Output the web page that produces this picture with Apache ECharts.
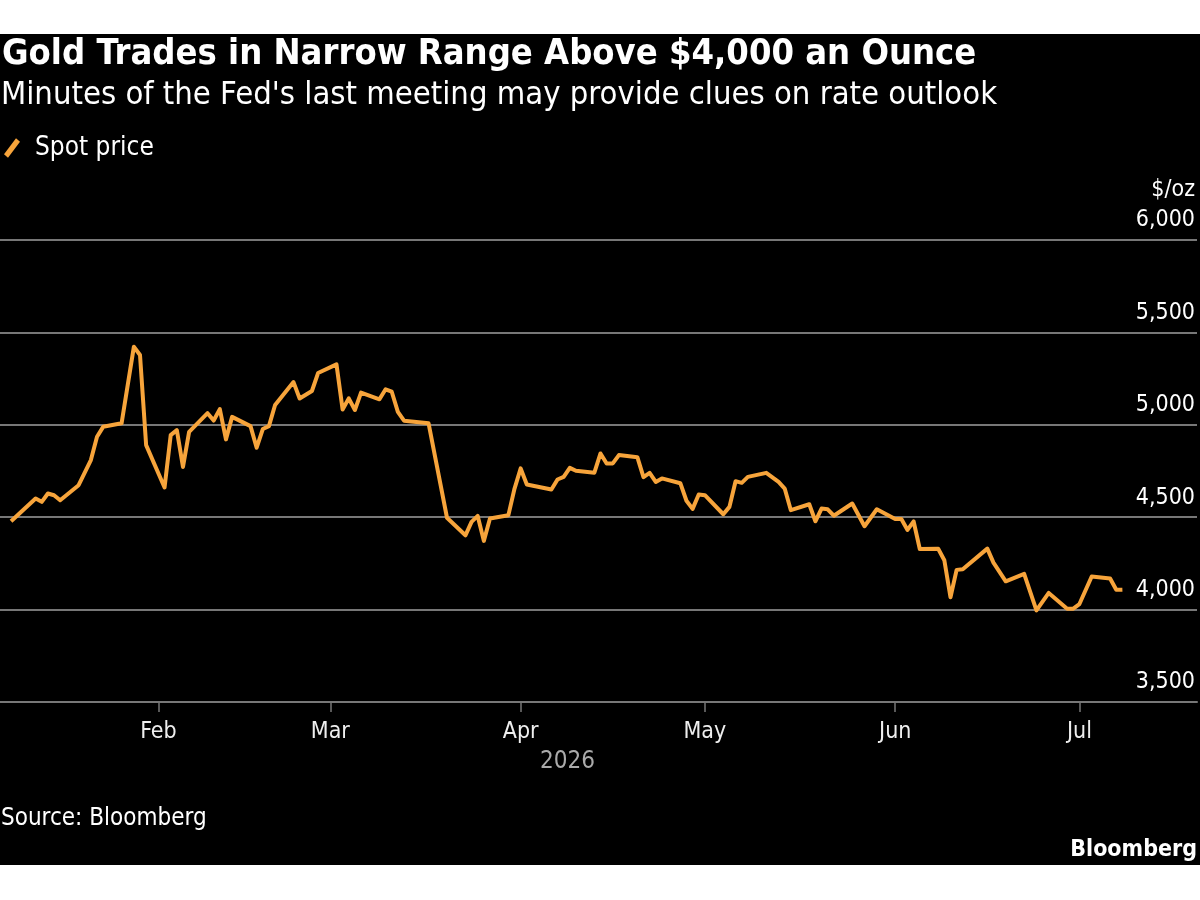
<!DOCTYPE html>
<html>
<head>
<meta charset="utf-8">
<script src="https://cdn.jsdelivr.net/npm/echarts@6/dist/echarts.min.js"></script>
<style>
  html, body { margin: 0; padding: 0; background: #fff; }
  #chart { position: absolute; left: 0; top: 34px; width: 1200px; height: 831px; background: #000; }
</style>
</head>
<body>
<div id="chart"></div>
<script>
// spot gold (trading days)
var dates = [
	'2026-01-08', '2026-01-12', '2026-01-13', '2026-01-14', '2026-01-15', '2026-01-16',
	'2026-01-19', '2026-01-21', '2026-01-22', '2026-01-23',
	'2026-01-26', '2026-01-28', '2026-01-29', '2026-01-30',
	'2026-02-02', '2026-02-03', '2026-02-04', '2026-02-05', '2026-02-06',
	'2026-02-09', '2026-02-10', '2026-02-11', '2026-02-12', '2026-02-13',
	'2026-02-16', '2026-02-17', '2026-02-18', '2026-02-19', '2026-02-20',
	'2026-02-23', '2026-02-24', '2026-02-26', '2026-02-27',
	'2026-03-02', '2026-03-03', '2026-03-04', '2026-03-05', '2026-03-06',
	'2026-03-09', '2026-03-10', '2026-03-11', '2026-03-12', '2026-03-13',
	'2026-03-17', '2026-03-20',
	'2026-03-23', '2026-03-24', '2026-03-25', '2026-03-26', '2026-03-27',
	'2026-03-30', '2026-03-31', '2026-04-01', '2026-04-02',
	'2026-04-06', '2026-04-07', '2026-04-08', '2026-04-09', '2026-04-10',
	'2026-04-13', '2026-04-14', '2026-04-15', '2026-04-16', '2026-04-17',
	'2026-04-20', '2026-04-21', '2026-04-22', '2026-04-23', '2026-04-24',
	'2026-04-27', '2026-04-28', '2026-04-29', '2026-04-30', '2026-05-01',
	'2026-05-04', '2026-05-05', '2026-05-06', '2026-05-07', '2026-05-08',
	'2026-05-11', '2026-05-13', '2026-05-14', '2026-05-15',
	'2026-05-18', '2026-05-19', '2026-05-20', '2026-05-21', '2026-05-22',
	'2026-05-25', '2026-05-27', '2026-05-29',
	'2026-06-01', '2026-06-02', '2026-06-03', '2026-06-04', '2026-06-05',
	'2026-06-08', '2026-06-09', '2026-06-10', '2026-06-11', '2026-06-12',
	'2026-06-16', '2026-06-17', '2026-06-19',
	'2026-06-22', '2026-06-24', '2026-06-26',
	'2026-06-29', '2026-06-30', '2026-07-01', '2026-07-03',
	'2026-07-06', '2026-07-07', '2026-07-08'
];
var prices = [
	4478, 4601, 4583, 4628, 4619, 4592,
	4673, 4809, 4935, 4989,
	5008, 5422, 5378, 4890,
	4661, 4944, 4971, 4772, 4962,
	5063, 5023, 5085, 4921, 5043,
	4993, 4876, 4977, 4993, 5107,
	5231, 5142, 5183, 5280,
	5327, 5083, 5143, 5080, 5174,
	5138, 5192, 5179, 5070, 5022,
	5008, 4497,
	4402, 4475, 4507, 4372, 4493,
	4511, 4655, 4764, 4677,
	4650, 4704, 4718, 4767, 4751,
	4741, 4845, 4791, 4791, 4836,
	4825, 4717, 4740, 4691, 4710,
	4684, 4589, 4545, 4623, 4619,
	4516, 4556, 4695, 4686, 4718,
	4740, 4691, 4655, 4538,
	4570, 4478, 4547, 4543, 4508,
	4574, 4451, 4543,
	4490, 4490, 4431, 4477, 4328,
	4329, 4267, 4067, 4215, 4218,
	4330, 4254, 4153,
	4193, 3996, 4090,
	4005, 4005, 4030, 4179,
	4168, 4107, 4108
];
var monthTicks = ['2026-02-01', '2026-03-01', '2026-04-01', '2026-05-01', '2026-06-01', '2026-07-01'];
var monthLabels = ['Feb', 'Mar', 'Apr', 'May', 'Jun', 'Jul'];

var font = 'DejaVu Sans Condensed';
var DAY = 86400000;

function toTime(s) {
	var p = s.split('-');
	return Date.UTC(+p[0], +p[1] - 1, +p[2]);
}

var tickTimes = monthTicks.map(toTime);
var seriesData = dates.map(function (d, i) { return [toTime(d), prices[i]]; });

var chartObj = echarts.init(document.getElementById('chart'));
var option = {
	backgroundColor: '#000',
	animation: false,
	title: [
		{
			text: 'Gold Trades in Narrow Range Above $4,000 an Ounce',
			left: 2, top: 3, padding: 0,
			textStyle: { color: '#fff', fontFamily: font, fontWeight: 'bold', fontSize: 36 }
		},
		{
			text: "Minutes of the Fed's last meeting may provide clues on rate outlook",
			left: 1, top: 45, padding: 0,
			textStyle: { color: '#fff', fontFamily: font, fontWeight: 'normal', fontSize: 32.5 }
		},
		{
			text: 'Source: Bloomberg',
			left: 1, top: 773, padding: 0,
			textStyle: { color: '#fff', fontFamily: font, fontWeight: 'normal', fontSize: 24 }
		},
		{
			text: 'Bloomberg',
			right: 3, top: 805, padding: 0,
			textStyle: { color: '#fff', fontFamily: font, fontWeight: 'bold', fontSize: 23 }
		}
	],
	legend: {
		left: 4, top: 101, padding: 0,
		icon: 'path://M0,12 L9,0 L12,2.5 L3,14.5 Z',
		itemWidth: 16, itemHeight: 20, itemGap: 10,
		textStyle: { color: '#fff', fontFamily: font, fontSize: 26, padding: [0, 0, 0, 10] },
		data: ['Spot price']
	},
	graphic: [
		{
			type: 'text', left: 540, top: 716,
			style: { text: '2026', fill: '#aaa', font: '24px "DejaVu Sans Condensed"' }
		}
	],
	grid: { left: 0, right: 3, top: 206, bottom: 163, containLabel: false },
	xAxis: {
		type: 'value',
		min: toTime('2026-01-06') + 0.2 * DAY,
		max: toTime('2026-07-20') + 0.15 * DAY,
		axisLine: { show: true, lineStyle: { color: '#777', width: 2 } },
		axisTick: { show: true, customValues: tickTimes, length: 10, lineStyle: { color: '#777', width: 1.5 } },
		axisLabel: {
			customValues: tickTimes,
			color: '#eee', fontFamily: font, fontSize: 23, margin: 19,
			formatter: function (value) {
				var best = 0;
				for (var i = 0; i < tickTimes.length; i++) {
					if (Math.abs(tickTimes[i] - value) < Math.abs(tickTimes[best] - value)) best = i;
				}
				return monthLabels[best];
			}
		},
		splitLine: { show: false }
	},
	yAxis: {
		type: 'value',
		position: 'right',
		min: 3500, max: 6000, interval: 500,
		name: '$/oz',
		nameLocation: 'end',
		nameGap: 38,
		nameTextStyle: { color: '#fff', fontFamily: font, fontSize: 23, align: 'right', verticalAlign: 'bottom', padding: [0, 2, 0, 0] },
		axisLine: { show: false },
		axisTick: { show: false },
		axisLabel: {
			inside: true, margin: 2,
			color: '#fff', fontFamily: font, fontSize: 23,
			verticalAlign: 'bottom', padding: [0, 0, 8, 0],
			formatter: function (v) { return v.toLocaleString('en-US'); }
		},
		splitLine: { show: true, lineStyle: { color: '#777', width: 2 } }
	},
	series: [
		{
			name: 'Spot price',
			type: 'line',
			data: seriesData,
			showSymbol: false,
			symbol: 'none',
			lineStyle: { color: '#f7a43b', width: 4, join: 'round' },
			itemStyle: { color: '#f7a43b' }
		}
	]
};
chartObj.setOption(option);
</script>
</body>
</html>
